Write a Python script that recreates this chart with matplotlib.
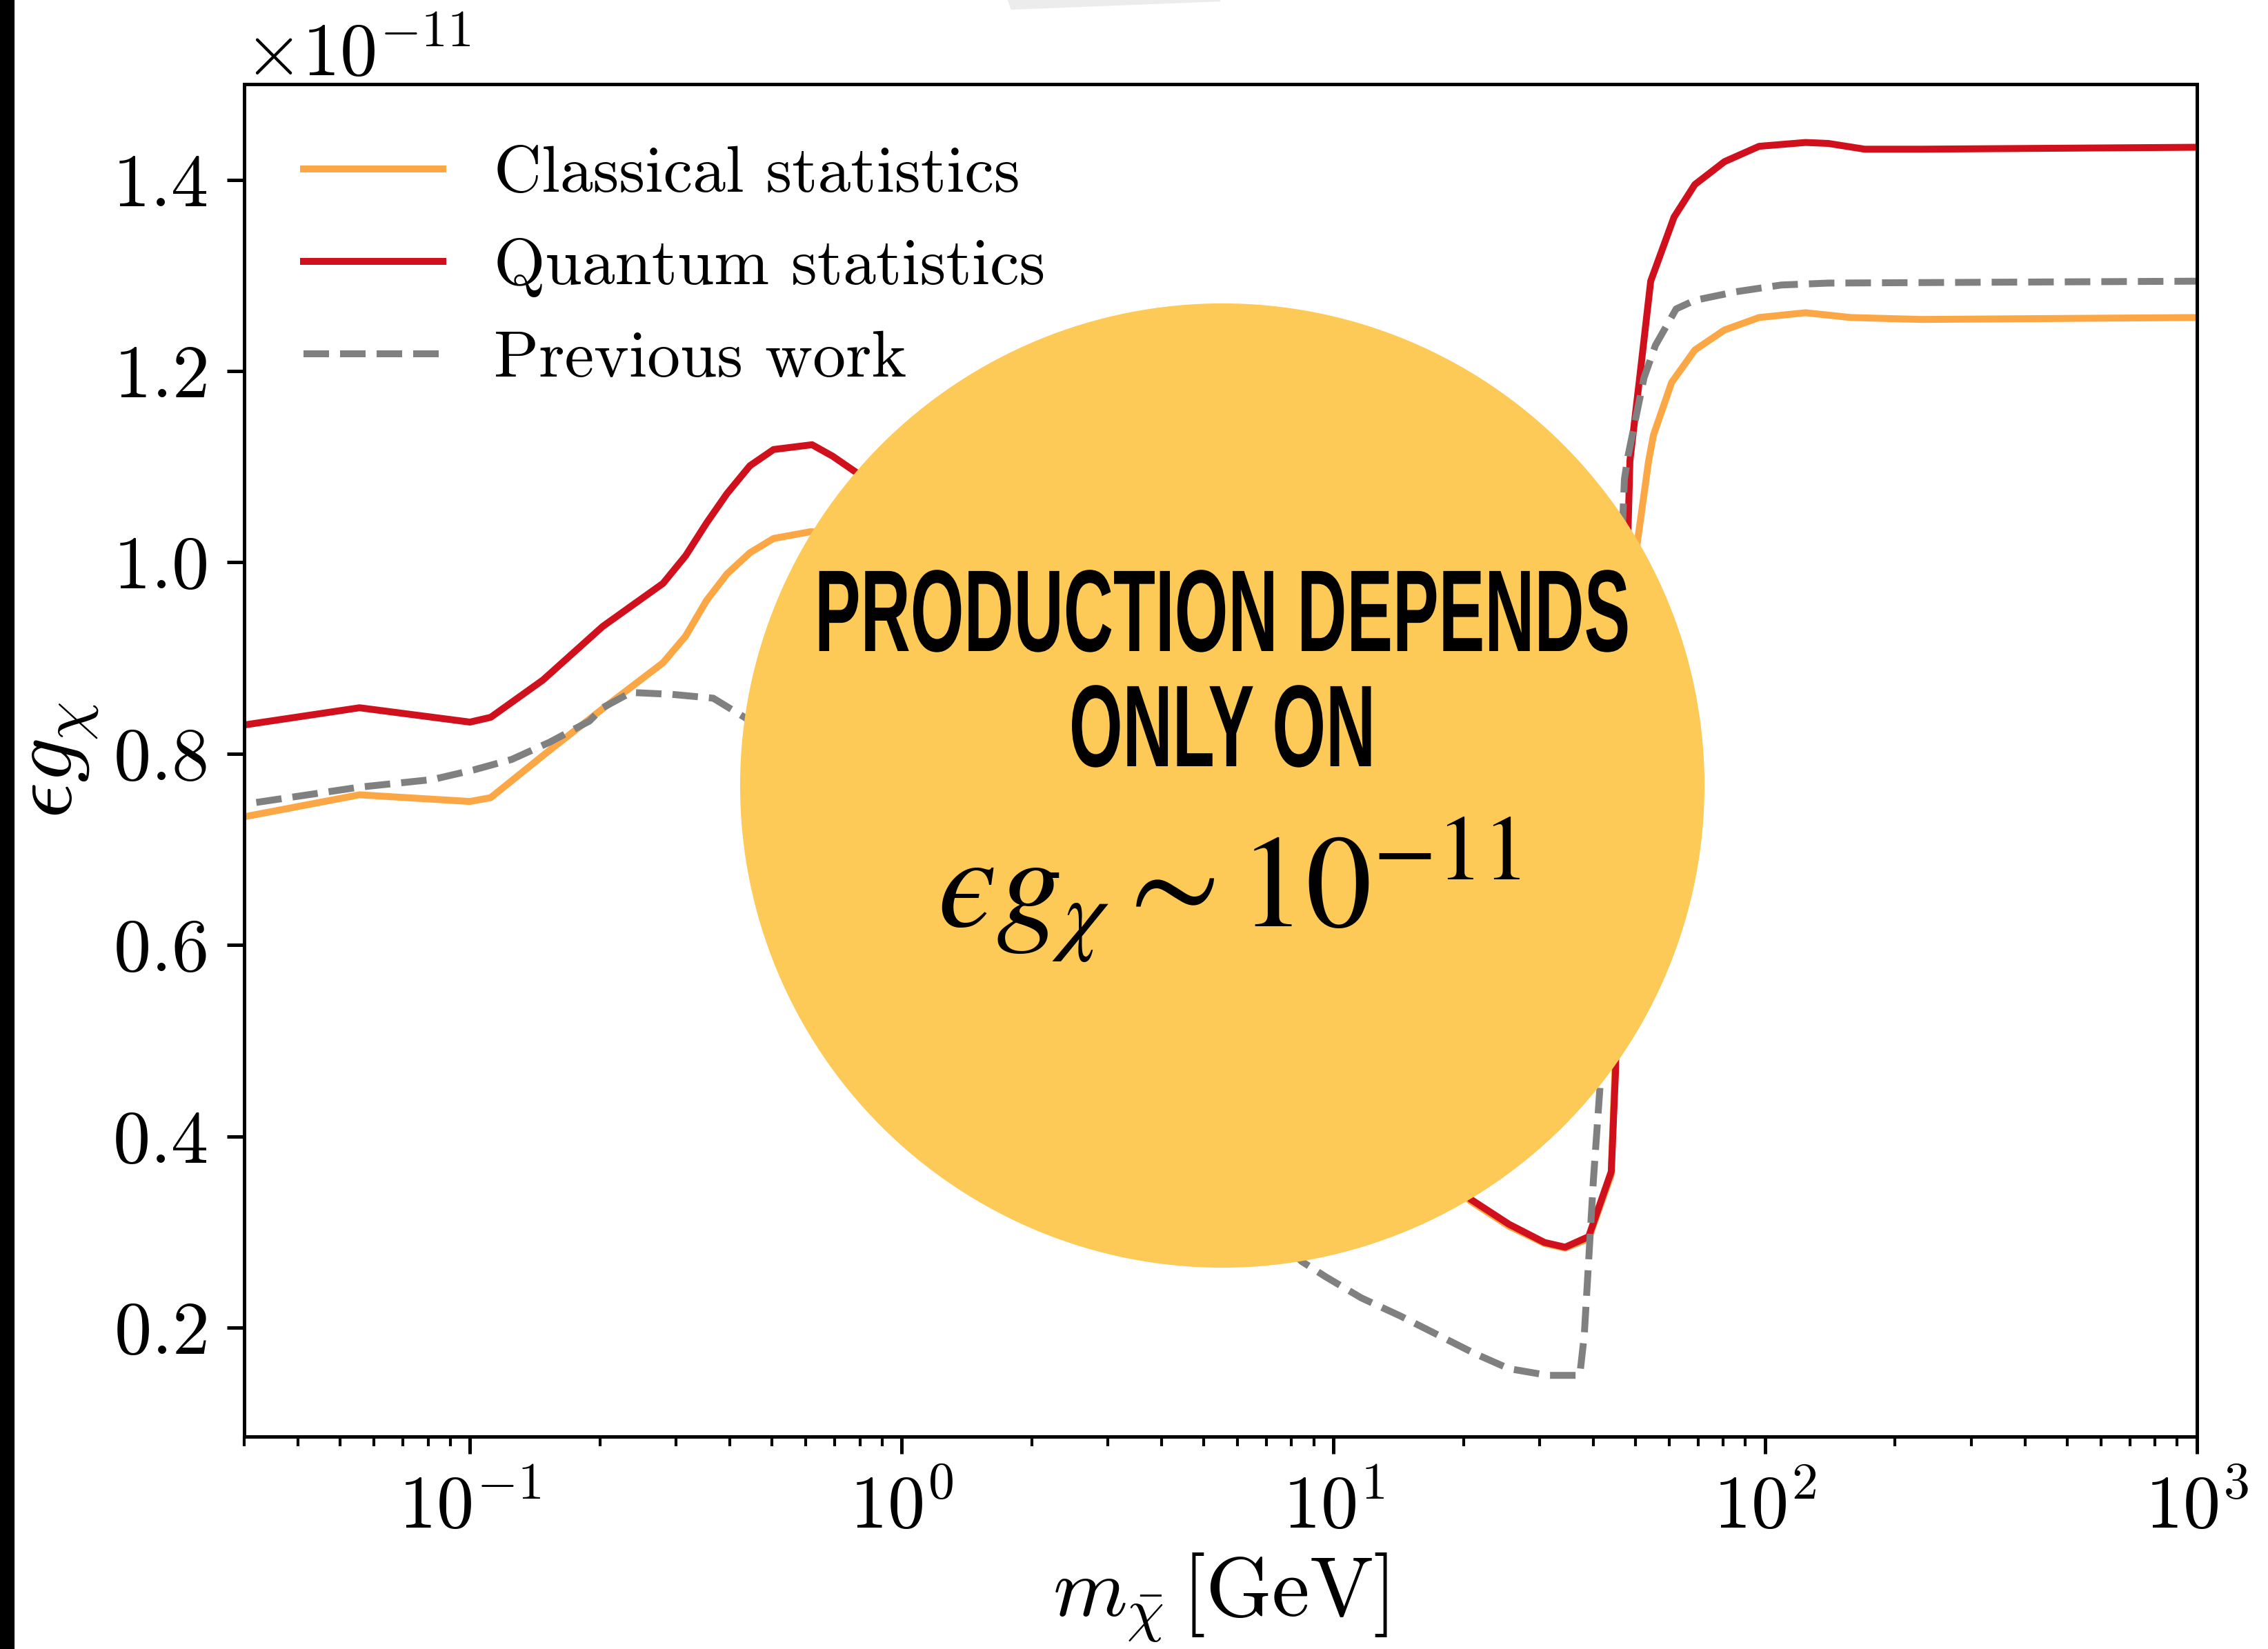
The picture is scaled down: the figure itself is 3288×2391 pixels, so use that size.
import matplotlib
matplotlib.use('Agg')
import matplotlib.pyplot as plt
import matplotlib.font_manager as fm
from matplotlib import patheffects
from matplotlib.patches import Ellipse, Polygon, Rectangle
from matplotlib.transforms import Affine2D

# values in units of 1e-11
m_classical = [0.03, 0.0555, 0.1, 0.1117, 0.1476, 0.203, 0.280, 0.316, 0.353, 0.394, 0.445,
               0.505, 0.614, 0.77, 1.41, 2.94, 6.1, 12.8, 20.8, 25.5, 30.8, 34.4, 39.0, 44.0,
               45.5, 48.0, 50.5, 53.7, 55.1, 60.7, 68.7, 80.5, 96.8, 124, 158, 230, 1000]
eg_classical = [0.734, 0.757, 0.750, 0.754, 0.798, 0.847, 0.895, 0.923, 0.960, 0.988, 1.010,
                1.025, 1.032, 1.030, 0.90, 0.72, 0.56, 0.42, 0.332, 0.306, 0.288, 0.283, 0.293, 0.360,
                0.55, 0.85, 1.019, 1.106, 1.133, 1.188, 1.222, 1.243, 1.256, 1.261, 1.256, 1.254, 1.256]

m_quantum = [0.03, 0.0555, 0.1, 0.1117, 0.1476, 0.203, 0.280, 0.316, 0.353, 0.394, 0.445,
             0.505, 0.620, 0.692, 0.785, 1.41, 2.94, 6.1, 12.8, 20.8, 25.5, 30.8, 34.4, 39.0,
             44.0, 45.0, 46.3, 48.6, 51.2, 54.3, 61.5, 68.7, 80.5, 96.8, 124, 140, 170, 230, 1000]
eg_quantum = [0.830, 0.848, 0.833, 0.838, 0.877, 0.933, 0.978, 1.007, 1.041, 1.072, 1.101,
              1.118, 1.123, 1.111, 1.094, 0.95, 0.75, 0.58, 0.43, 0.334, 0.308, 0.289, 0.284, 0.295,
              0.363, 0.466, 0.75, 1.106, 1.193, 1.294, 1.361, 1.395, 1.419, 1.435, 1.439, 1.438, 1.432, 1.432, 1.434]

m_previous = [0.032, 0.0555, 0.082, 0.102, 0.125, 0.153, 0.189, 0.203, 0.236, 0.294, 0.366,
              0.436, 0.6, 1.41, 2.94, 6.1, 8.45, 9.6, 11.6, 14.3, 17.5, 21.2, 25.5, 31.4, 37.2,
              38.1, 40.0, 41.5, 44.0, 47.2, 48.1, 52.4, 55.7, 62.2, 68.7, 85.7, 109, 140, 1000]
eg_previous = [0.749, 0.765, 0.773, 0.783, 0.794, 0.812, 0.834, 0.848, 0.864, 0.862, 0.858,
               0.837, 0.78, 0.62, 0.45, 0.33, 0.269, 0.253, 0.231, 0.212, 0.192, 0.173, 0.157, 0.150, 0.150,
               0.192, 0.354, 0.456, 0.75, 1.087, 1.111, 1.193, 1.227, 1.265, 1.274, 1.283, 1.290, 1.292, 1.294]

labels = ["Classical statistics", "Quantum statistics", "Previous work"]
scale = 1e-11

plt.rcParams.update({
    'font.family': 'serif',
    'font.serif': ['cmr10'],
    'mathtext.fontset': 'cm',
    'axes.formatter.use_mathtext': True,
})

W, H, DPI = 3288, 2391, 300
fig = plt.figure(figsize=(W / DPI, H / DPI), dpi=DPI)
ax = fig.add_axes([354 / W, 1 - 2083 / H, (3185 - 354) / W, (2083 - 122) / H])

lw = 2.4
ax.plot(m_classical, [v * scale for v in eg_classical], color='#fca746', lw=lw, label=labels[0])
ax.plot(m_quantum, [v * scale for v in eg_quantum], color='#d0101c', lw=lw, label=labels[1])
ax.plot(m_previous, [v * scale for v in eg_previous], color='#808080', lw=lw, ls='--', label=labels[2])

ax.set_xscale('log')
ax.set_xlim(0.03, 1000)
ax.set_ylim(0.086e-11, 1.50e-11)
ax.set_yticks([v * scale for v in [0.2, 0.4, 0.6, 0.8, 1.0, 1.2, 1.4]])
ax.yaxis.get_offset_text().set_fontsize(26)

ax.set_xlabel(r'$m_{\bar{\chi}}\,[\mathrm{GeV}]$', fontsize=29.5, labelpad=3)
ax.set_ylabel(r'$\epsilon g_\chi$', fontsize=31, labelpad=4)
ax.tick_params(which='major', labelsize=26, length=6, width=1.2, pad=7)
ax.tick_params(which='minor', length=3.3, width=1.0)
for s in ax.spines.values():
    s.set_linewidth(1.2)

ax.legend(loc='upper left', frameon=False, fontsize=23, handlelength=2.1,
          handletextpad=0.77, labelspacing=0.5, borderaxespad=0.0,
          bbox_to_anchor=(0.017, 0.974))

# left black strip and faint sliver at top of the screenshot
fig.patches.append(Rectangle((0, 0), 19 / W, 1, transform=fig.transFigure,
                             color='black', zorder=5))
fig.patches.append(Polygon([(1463 / W, 1.0), (1467 / W, 1 - 12 / H), (1769 / W, 1.0)],
                           closed=True, transform=fig.transFigure, color='#ececec', zorder=5))

# yellow overlay disc
fig.patches.append(Ellipse((1772 / W, 1 - 1139 / H), 2 * 697 / W, 2 * 697 / H,
                           transform=fig.transFigure, color='#fdca58', zorder=6))


class HSqueeze(patheffects.AbstractPathEffect):
    def __init__(self, sx, cx):
        super().__init__()
        self.sx = sx
        self.cx = cx

    def draw_path(self, renderer, gc, tpath, affine, rgbFace=None):
        t = affine + Affine2D().translate(-self.cx, 0).scale(self.sx, 1).translate(self.cx, 0)
        renderer.draw_path(gc, tpath, t, rgbFace)


names = {f.name for f in fm.fontManager.ttflist}
head_font = next((f for f in ['Liberation Sans Narrow', 'Liberation Sans', 'DejaVu Sans'] if f in names),
                 'DejaVu Sans')

cx = 1772
t1 = fig.text(cx / W, 1 - 944 / H, "PRODUCTION DEPENDS", family=head_font, weight='bold',
              fontsize=40.5, ha='center', va='baseline', zorder=7)
t2 = fig.text(cx / W, 1 - 1111 / H, "ONLY ON", family=head_font, weight='bold',
              fontsize=40.5, ha='center', va='baseline', zorder=7)
fig.text(1782 / W, 1 - 1342 / H, '$\u03f5 g_\\chi \\sim 10^{-11}$', math_fontfamily='stix',
         fontsize=46, ha='center', va='baseline', zorder=7)

fig.canvas.draw()
w1 = t1.get_window_extent().width
sx = 1182 / w1
for t in (t1, t2):
    t.set_path_effects([HSqueeze(sx, cx)])

fig.savefig('out.png', dpi=DPI, facecolor='white')
